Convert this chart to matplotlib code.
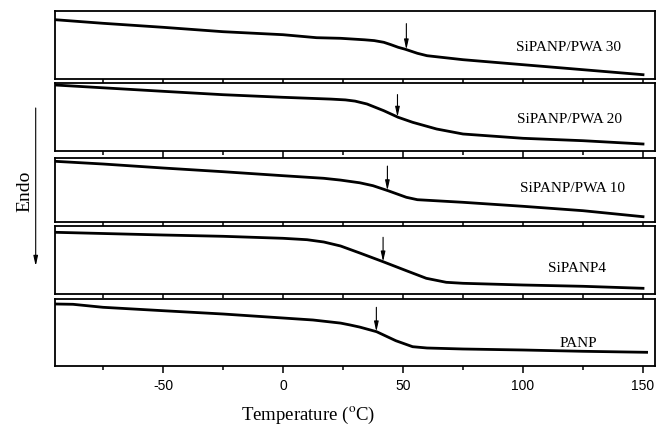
import matplotlib
matplotlib.use("Agg")
import matplotlib.pyplot as plt
import numpy as np

plt.rcParams['mathtext.fontset'] = 'stix'

# DSC traces, heat flow in arbitrary units, top panel first
names = ['SiPANP/PWA 30', 'SiPANP/PWA 20', 'SiPANP/PWA 10', 'SiPANP4', 'PANP']

T_pwa30 = [-95, -75, -50, -25, 0, 14, 24, 34, 38, 42, 45, 48, 51, 56, 60, 75, 100, 125, 150]
y_pwa30 = [59.3, 55.7, 51.7, 47.3, 44.3, 41.3, 40.7, 39.2, 38.4, 36.7, 34.3, 31.7, 29.7, 25.7, 23.3, 19.3, 14.3, 9.3, 4.3]

T_pwa20 = [-95, -50, -25, 0, 20, 26, 30, 35, 42, 48, 54, 64, 75, 100, 125, 150]
y_pwa20 = [65.7, 59.4, 56.0, 53.4, 51.6, 50.8, 49.6, 46.7, 40.0, 33.4, 28.4, 21.7, 16.7, 12.4, 10.0, 6.7]

T_pwa10 = [-95, -75, -50, -25, 0, 17, 24, 32, 37.5, 43.75, 51.4, 56, 75, 100, 125, 150]
y_pwa10 = [60.4, 57.7, 53.7, 50.0, 46.0, 43.4, 41.6, 38.9, 36.0, 31.0, 24.4, 22.0, 19.4, 15.4, 11.0, 5.0]

T_sipanp4 = [-95, -50, -25, 0, 10, 17, 24, 32, 41.7, 51.4, 59.7, 68, 75, 100, 125, 150]
y_sipanp4 = [61.7, 59.0, 57.7, 55.7, 54.3, 52.0, 48.0, 41.0, 32.3, 23.3, 15.7, 11.7, 10.7, 9.0, 7.7, 5.7]

T_panp = [-95, -87.5, -75, -50, -25, 0, 12.5, 24, 28, 32, 39, 47, 54, 60, 75, 100, 125, 151.5]
y_panp = [62.0, 61.7, 58.7, 55.3, 52.0, 48.0, 46.0, 42.9, 41.0, 38.9, 34.3, 25.3, 19.3, 18.0, 17.0, 16.0, 14.7, 13.7]

# glass transition marks (degC)
tg_marks = [51.4, 47.7, 43.5, 41.7, 38.9]

curves = [(T_pwa30, y_pwa30), (T_pwa20, y_pwa20), (T_pwa10, y_pwa10),
          (T_sipanp4, y_sipanp4), (T_panp, y_panp)]

# panel layout in pixels (top, height) and label spots
W, H = 665, 427
panel_px = [(12.3, 67.7), (84, 67.7), (159, 63.7), (226.7, 68.3), (300, 67)]
label_pos = [(119, 32.3), (119.5, 31.7), (120.5, 33.7), (122.6, 26.7), (123.2, 23.7)]
arrow_len = [26, 22.4, 24.4, 24.4, 24.3]

arrow_kw = dict(arrowstyle='-|>,head_length=0.9,head_width=0.2', color='black',
                lw=0.8, mutation_scale=6.5, shrinkA=0, shrinkB=0)

fig = plt.figure(figsize=(W / 100, H / 100), dpi=100)
axes = []
for i, (top, h) in enumerate(panel_px):
    ax = fig.add_axes([55 / W, 1 - (top + h) / H, 600 / W, h / H])
    T, y = curves[i]
    ax.plot(T, y, color='black', lw=2.0, solid_joinstyle='round')
    ax.set_xlim(-95, 155)
    ax.set_ylim(0, h)
    ax.set_yticks([])
    ax.set_xticks([-50, 0, 50, 100, 150])
    ax.set_xticks([-75, -25, 25, 75, 125], minor=True)
    ax.tick_params(axis='x', which='major', direction='out', length=5, width=1.1)
    ax.tick_params(axis='x', which='minor', direction='out', length=3, width=1.1)
    for s in ax.spines.values():
        s.set_linewidth(1.3)
    if i < len(panel_px) - 1:
        ax.set_xticklabels([])
    else:
        ax.set_xticklabels(['-50', '0', '50', '100', '150'],
                           family='Liberation Sans', fontsize=10)
    # Tg arrow
    tip = np.interp(tg_marks[i], T, y)
    ax.annotate('', xy=(tg_marks[i], tip), xytext=(tg_marks[i], tip + arrow_len[i]),
                arrowprops=arrow_kw)
    ax.text(label_pos[i][0], label_pos[i][1], names[i], ha='center', va='center',
            family='Liberation Serif', fontsize=11)
    axes.append(ax)

fig.text(308 / W, 1 - 415 / H, 'Temperature ($^{\\mathrm{o}}$C)', ha='center', va='center',
         family='Liberation Serif', fontsize=13.5)

# Endo direction arrow
fig.text(25 / W, 1 - 191 / H, 'Endo', rotation=90, ha='center', va='center',
         family='Liberation Serif', fontsize=14)
axes[0].annotate('', xy=(35.7, H - 267), xytext=(35.7, H - 109),
                 xycoords='figure pixels', textcoords='figure pixels',
                 arrowprops=arrow_kw, annotation_clip=False)

fig.savefig('out.png', dpi=100)
